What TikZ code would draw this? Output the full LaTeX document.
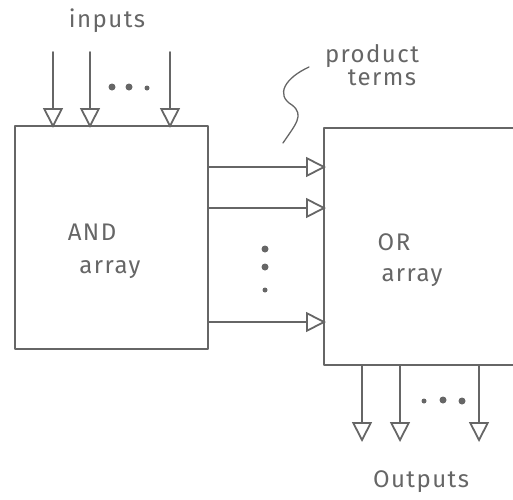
\documentclass[tikz,border=0pt]{standalone}
\usepackage{fontspec}
\setmainfont{Fira Sans}
\usetikzlibrary{arrows.meta}
\definecolor{pencil}{HTML}{666666}
\tikzset{
  pen/.style={draw=pencil, line width=1.8pt, line cap=round, line join=round},
  arr/.style={pen, -{Triangle[open, length=20pt, width=20pt, line width=1.8pt]}},
  lbl/.style={text=pencil, font=\fontsize{24}{26}\selectfont\addfontfeature{LetterSpace=6}, inner sep=0pt},
  dot/.style={circle, fill=pencil, inner sep=0pt, minimum size=7pt}
}
\begin{document}
\begin{tikzpicture}[x=1pt, y=-1pt]
\useasboundingbox (0,0) rectangle (513,499);
\begin{scope}
\clip (0,0) rectangle (513,499);
% boxes
\coordinate (andtl) at (15,126);
\coordinate (andbr) at (208,349);
\draw[pen] (andtl) rectangle (andbr);
\coordinate (ortl) at (324,128);
\coordinate (orbr) at (530,365);
\draw[pen] (ortl) rectangle (orbr);
\end{scope}
% labels in boxes
\node[lbl] (and) at (92,232) {AND};
\node[lbl] (andarr) at (110,270) {array};
\node[lbl] (or) at (394,242) {OR};
\node[lbl] (orarr) at (412,278) {array};
% inputs
\node[lbl] (inputs) at (107,21) {inputs};
\foreach \x/\n in {53/a,90/b,170/c}{
  \coordinate (in\n s) at (\x,52);
  \coordinate (in\n e) at (\x,128);
  \draw[arr] (in\n s) -- (in\n e);
}
\node[dot] (d1) at (112,87) {};
\node[dot] (d2) at (129,87) {};
\node[dot, minimum size=5pt] (d3) at (147,88) {};
% product terms
\foreach \y/\n in {167/a,208/b,322/c}{
  \coordinate (pt\n s) at (208,\y);
  \coordinate (pt\n e) at (326,\y);
  \draw[arr] (pt\n s) -- (pt\n e);
}
\node[dot] (v1) at (265,249) {};
\node[dot] (v2) at (265,267) {};
\node[dot, minimum size=5pt] (v3) at (265,290) {};
\node[lbl] (prod) at (372,56) {product};
\node[lbl] (terms) at (382,78) {terms};
\coordinate (sq1) at (309,67);
\coordinate (sq2) at (283,143);
\draw[pen, line width=1.3pt] (sq1) .. controls (285,78) and (275,95) .. (292,105)
  .. controls (305,115) and (295,125) .. (sq2);
% outputs
\foreach \x/\n in {362/a,400/b,479/c}{
  \coordinate (out\n s) at (\x,365);
  \coordinate (out\n e) at (\x,442);
  \draw[arr] (out\n s) -- (out\n e);
}
\node[dot, minimum size=5pt] (o1) at (424,401) {};
\node[dot] (o2) at (443,400) {};
\node[dot] (o3) at (462,401) {};
\node[lbl] (outputs) at (421,482) {Outputs};
\end{tikzpicture}
\end{document}
